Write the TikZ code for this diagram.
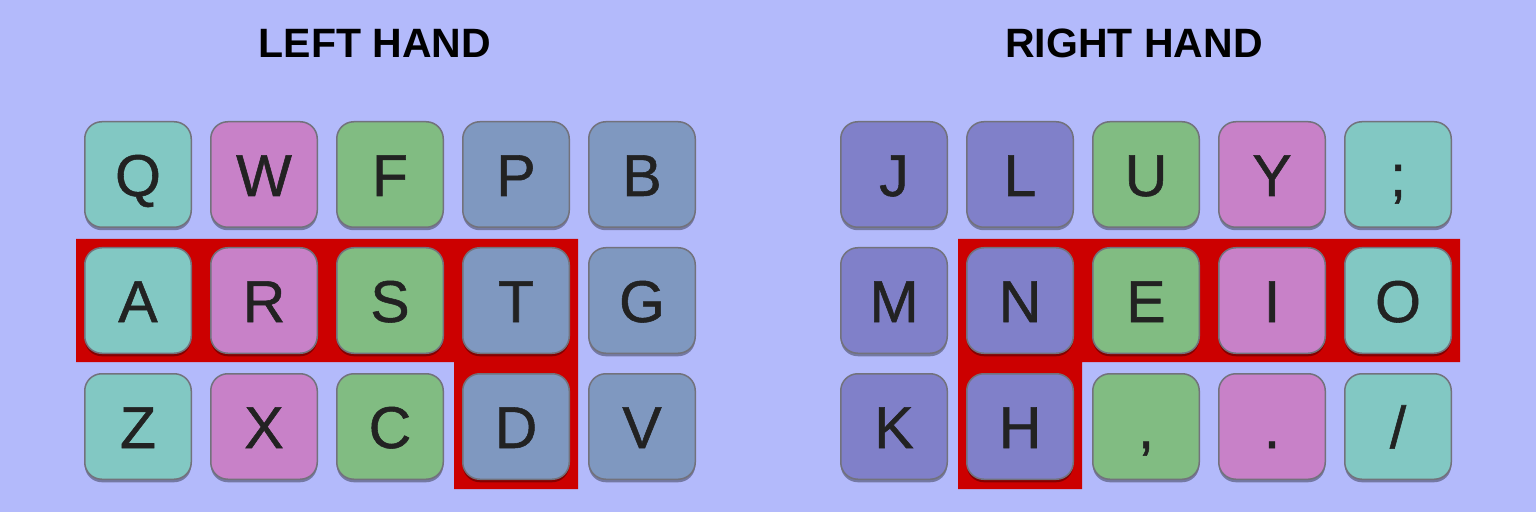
\documentclass[tikz,border=0pt]{standalone}
\usepackage{fontspec}
\setmainfont{Liberation Sans}
\newfontfamily\keyfont[FakeBold=0.9]{Liberation Sans}
\usetikzlibrary{positioning, shadows, backgrounds, calc}
\definecolor{kbback}{HTML}{B3BAFB}
\definecolor{kbteal}{HTML}{82C8C3}
\definecolor{kbpink}{HTML}{C881C8}
\definecolor{kbgreen}{HTML}{81BC82}
\definecolor{kbslate}{HTML}{7F98C0}
\definecolor{kbviolet}{HTML}{8080C9}
\definecolor{kbred}{HTML}{CC0000}
\definecolor{kbedge}{HTML}{72727C}
\definecolor{kbink}{HTML}{222222}

\begin{document}
\begin{tikzpicture}[
    x=1pt, y=1pt,
    node distance=19pt and 18pt,
    key/.style={draw=kbedge,line width=1.5pt,rounded corners=17pt,minimum width=106.5pt,minimum height=105.5pt,inner sep=0pt,
      text height=43pt,text depth=0pt,font=\keyfont\fontsize{59}{59}\selectfont,text=kbink,
      drop shadow={shadow xshift=0pt,shadow yshift=-3pt,opacity=0.35,fill=black}},
    hand/.style={font=\bfseries\fontsize{41}{41}\selectfont,text=black},
  ]
    \useasboundingbox (0,0) rectangle (1536,512);

    % left hand
    \node[hand] (lefthand) at (375,469) {LEFT HAND};
    \node[key, fill=kbteal] (Q) at (138,337.5) {Q};
    \node[key, fill=kbpink, right=of Q] (W) {W};
    \node[key, fill=kbgreen, right=of W] (F) {F};
    \node[key, fill=kbslate, right=of F] (P) {P};
    \node[key, fill=kbslate, right=of P] (B) {B};
    \node[key, fill=kbteal, below=of Q] (A) {A};
    \node[key, fill=kbpink, right=of A] (R) {R};
    \node[key, fill=kbgreen, right=of R] (S) {S};
    \node[key, fill=kbslate, right=of S] (T) {T};
    \node[key, fill=kbslate, right=of T] (G) {G};
    \node[key, fill=kbteal, below=of A] (Z) {Z};
    \node[key, fill=kbpink, right=of Z] (X) {X};
    \node[key, fill=kbgreen, right=of X] (C) {C};
    \node[key, fill=kbslate, right=of C] (D) {D};
    \node[key, fill=kbslate, right=of D] (V) {V};

    % right hand
    \node[hand] (righthand) at (1134,469) {RIGHT HAND};
    \node[key, fill=kbviolet] (J) at (894,337.5) {J};
    \node[key, fill=kbviolet, right=of J] (L) {L};
    \node[key, fill=kbgreen, right=of L] (U) {U};
    \node[key, fill=kbpink, right=of U] (Y) {Y};
    \node[key, fill=kbteal, right=of Y] (semi) {;};
    \node[key, fill=kbviolet, below=of J] (M) {M};
    \node[key, fill=kbviolet, right=of M] (N) {N};
    \node[key, fill=kbgreen, right=of N] (E) {E};
    \node[key, fill=kbpink, right=of E] (I) {I};
    \node[key, fill=kbteal, right=of I] (O) {O};
    \node[key, fill=kbviolet, below=of M] (K) {K};
    \node[key, fill=kbviolet, right=of K] (H) {H};
    \node[key, fill=kbgreen, right=of H] (comma) {,};
    \node[key, fill=kbpink, right=of comma] (dot) {.};
    \node[key, fill=kbteal, right=of dot] (slash) {/};

    % home row highlight
    \coordinate (lbend) at (A.south -| D.west);
    \coordinate (rbend) at (N.south -| H.east);
    \begin{scope}[on background layer]
      \fill[kbback] (0,0) rectangle (1536,512);
      \fill[kbred] ($(A.north west)+(-8,8)$) -- ($(T.north east)+(8,8)$) -- ($(D.south east)+(8,-9)$)
        -- ($(D.south west)+(-8,-9)$) -- ($(lbend)+(-8,-8)$) -- ($(A.south west)+(-8,-8)$) -- cycle;
      \fill[kbred] ($(N.north west)+(-8,8)$) -- ($(O.north east)+(8,8)$) -- ($(O.south east)+(8,-8)$)
        -- ($(rbend)+(8,-8)$) -- ($(H.south east)+(8,-9)$) -- ($(H.south west)+(-8,-9)$) -- cycle;
    \end{scope}
  \end{tikzpicture}
\end{document}
